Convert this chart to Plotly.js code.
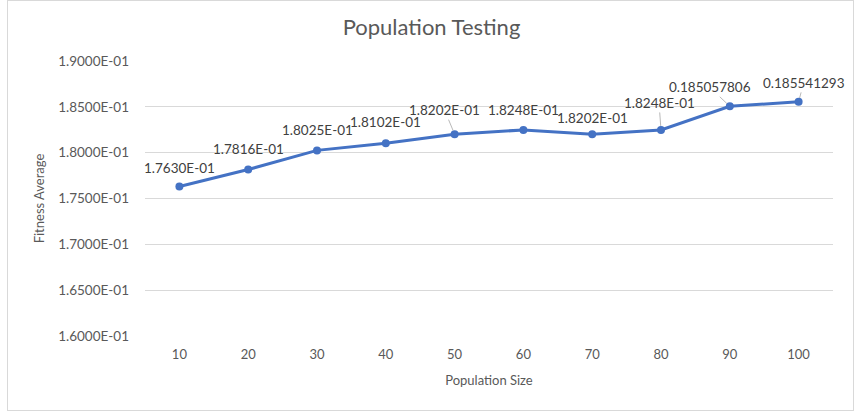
<!DOCTYPE html>
<html>
<head>
<meta charset="utf-8">
<script src="https://cdn.plot.ly/plotly-3.0.1.min.js"></script>
<style>
html,body{margin:0;padding:0;background:#fff;}
#wrap{position:relative;width:863px;height:413px;}
#chart{width:863px;height:413px;}
#frame{position:absolute;left:7px;top:0px;width:845px;height:409px;border:1px solid #d9d9d9;pointer-events:none;}
</style>
</head>
<body>
<div id="wrap"><div id="chart"></div><div id="frame"></div></div>
<script>
var populationSizes = ["10","20","30","40","50","60","70","80","90","100"];
var fitnessAverage = [0.1763, 0.17816, 0.18025, 0.18102, 0.18202, 0.18248, 0.18202, 0.18248, 0.185057806, 0.185541293];
var dataLabels = ["1.7630E-01","1.7816E-01","1.8025E-01","1.8102E-01","1.8202E-01","1.8248E-01","1.8202E-01","1.8248E-01","0.185057806","0.185541293"];
var yTickValues = [0.16, 0.165, 0.17, 0.175, 0.18, 0.185, 0.19];
var yTickLabels = ["1.6000E-01","1.6500E-01","1.7000E-01","1.7500E-01","1.8000E-01","1.8500E-01","1.9000E-01"];

// label placement (pixel offsets) and whether a leader line is drawn
var labelOffsets = [[0,-19],[0,-21],[0,-20],[0,-21],[-10,-24],[0,-20],[0,-16],[-2,-27],[-20,-19],[5,-19]];
var leader = [false,false,false,false,true,false,false,true,true,true];

var FONT = 'Lato, "Open Sans", sans-serif';
var annotations = populationSizes.map(function(c,i){
  var a = {
    x: i, y: fitnessAverage[i], xref:'x', yref:'y',
    text: dataLabels[i],
    font:{family:FONT, size:13.5, color:'#404040'}
  };
  if (leader[i]) {
    a.showarrow = true; a.arrowhead = 0; a.arrowwidth = 0.8; a.arrowcolor = '#a6a6a6';
    a.ax = labelOffsets[i][0]; a.ay = labelOffsets[i][1]; a.standoff = 4;
  } else {
    a.showarrow = false; a.xshift = labelOffsets[i][0]; a.yshift = -labelOffsets[i][1];
  }
  return a;
});

var trace = {
  x: populationSizes, y: fitnessAverage, type:'scatter', mode:'lines+markers',
  line:{color:'#4472C4', width:3},
  marker:{color:'#4472C4', size:8},
  hoverinfo:'skip'
};

var layout = {
  width:863, height:413,
  margin:{l:145, r:30, t:61, b:77},
  paper_bgcolor:'#ffffff', plot_bgcolor:'#ffffff',
  showlegend:false,
  title:{text:'Population Testing', x:0.5, xanchor:'center', y:0.935, yanchor:'middle',
    font:{family:FONT, size:22, color:'#595959'}},
  xaxis:{type:'category', categoryorder:'array', categoryarray:populationSizes,
    range:[-0.5, populationSizes.length-0.5], autorange:false,
    showgrid:false, zeroline:false, showline:false, ticks:'', tickangle:0,
    tickfont:{family:FONT, size:13, color:'#595959'},
    ticklabelstandoff:9,
    title:{text:'Population Size', standoff:14, font:{family:FONT, size:13, color:'#595959'}}},
  yaxis:{range:[0.16,0.19], autorange:false, tickvals:yTickValues, ticktext:yTickLabels,
    showgrid:true, gridcolor:'#d9d9d9', gridwidth:1, zeroline:false, showline:false, ticks:'',
    tickfont:{family:FONT, size:13.5, color:'#595959'},
    ticklabelstandoff:15,
    title:{text:'Fitness Average', standoff:10, font:{family:FONT, size:13, color:'#595959'}}},
  annotations: annotations
};

Plotly.newPlot('chart', [trace], layout, {displayModeBar:false, staticPlot:true});
</script>
</body>
</html>
